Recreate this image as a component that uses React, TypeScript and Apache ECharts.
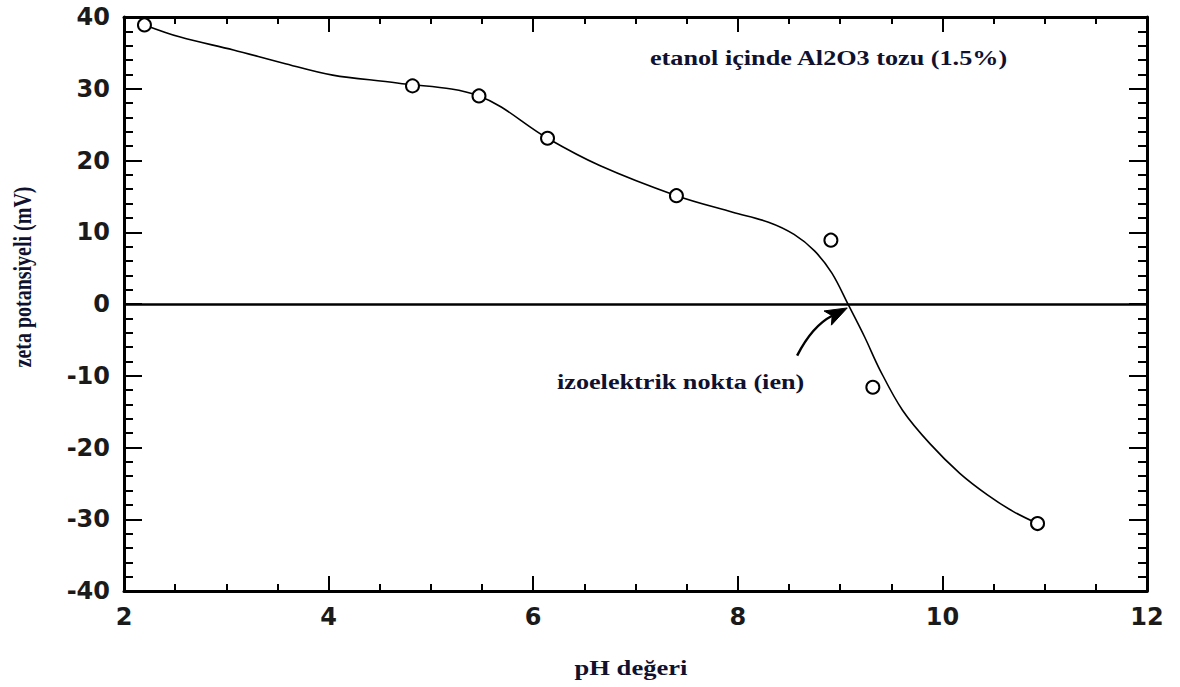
import React, { useEffect, useRef } from "react";
import * as echarts from "echarts";

// Smooth fitted curve
const curveX = [2.2, 2.55, 3.07, 3.55, 4.04, 4.67, 5.47, 6.14, 6.65, 7.4, 7.95, 8.3, 8.55, 8.75, 8.92, 9.08, 9.24, 9.39, 9.61, 9.88, 10.17, 10.44, 10.69, 10.93];
const curveY = [38.9, 37.2, 35.4, 33.6, 31.9, 30.8, 29.0, 23.1, 19.3, 15.1, 12.8, 11.4, 9.7, 7.4, 4.3, -0.1, -4.6, -9.2, -14.8, -19.5, -23.6, -26.6, -28.9, -30.6];

// Measured points (open circles)
const pointX = [2.2, 4.82, 5.47, 6.14, 7.4, 8.91, 9.32, 10.93];
const pointY = [38.9, 30.4, 29.0, 23.1, 15.1, 8.9, -11.6, -30.6];

// Axis ranges / ticks
const xMin = 2, xMax = 12, xStep = 2;
const yMin = -40, yMax = 40, yStep = 10;

// Texts
const xTitle = "pH değeri";
const yTitle = "zeta potansiyeli (mV)";
const noteTop = "etanol içinde Al2O3 tozu (1.5%)";
const noteIep = "izoelektrik nokta (ien)";

// Arrow (data coords): tail and tip
const arrowTail = [8.58, -7.2];
const arrowTip = [9.07, -0.55];

const serif = 'bold 20px "Liberation Serif", "Times New Roman", serif';
const textColor = "#10112e";

export default function App() {
  const ref = useRef<HTMLDivElement>(null);
  useEffect(() => {
    document.body.style.margin = "0";
    const chart = echarts.init(ref.current!, null, { renderer: "svg" });
    const tickLabel = {
      fontFamily: "DejaVu Sans",
      fontWeight: "bold" as const,
      fontSize: 24,
      color: "#1a1a1a",
    };
    const xAxisBase = {
      type: "value" as const,
      min: xMin,
      max: xMax,
      interval: xStep,
      axisLine: { show: true, onZero: false, lineStyle: { color: "#000", width: 3 } },
      axisTick: { show: true, inside: true, length: 15, lineStyle: { color: "#000", width: 2 } },
      minorTick: { show: true, splitNumber: 4, length: 7, lineStyle: { color: "#000", width: 2 } },
      splitLine: { show: false },
      minorSplitLine: { show: false },
    };
    const yAxisBase = {
      type: "value" as const,
      min: yMin,
      max: yMax,
      interval: yStep,
      axisLine: { show: true, onZero: false, lineStyle: { color: "#000", width: 3 } },
      axisTick: { show: true, inside: true, length: 18, lineStyle: { color: "#000", width: 2 } },
      minorTick: { show: true, splitNumber: 5, length: 9, lineStyle: { color: "#000", width: 2 } },
      splitLine: { show: false },
      minorSplitLine: { show: false },
    };
    chart.setOption({
      animation: false,
      backgroundColor: "#fff",
      grid: { left: 124, right: 33, top: 17, bottom: 96, containLabel: false },
      xAxis: [
        { ...xAxisBase, position: "bottom", axisLabel: { ...tickLabel, margin: 14 } },
        { ...xAxisBase, position: "top", axisLabel: { show: false } },
      ],
      yAxis: [
        { ...yAxisBase, position: "left", axisLabel: { ...tickLabel, margin: 14 } },
        { ...yAxisBase, position: "right", axisLabel: { show: false } },
      ],
      series: [
        {
          type: "line",
          name: "curve",
          data: curveX.map((x, i) => [x, curveY[i]]),
          smooth: 0.35,
          showSymbol: false,
          symbol: "none",
          lineStyle: { color: "#000", width: 1.6 },
          silent: true,
          z: 3,
          markLine: {
            silent: true,
            symbol: "none",
            label: { show: false },
            lineStyle: { color: "#000", width: 2.5, type: "solid" },
            data: [{ yAxis: 0 }],
          },
        },
        {
          type: "scatter",
          name: "data",
          data: pointX.map((x, i) => [x, pointY[i]]),
          symbol: "circle",
          symbolSize: 13,
          itemStyle: { color: "#fff", borderColor: "#000", borderWidth: 2, opacity: 1 },
          z: 5,
        },
      ],
    });

    const tail = chart.convertToPixel({ gridIndex: 0 }, arrowTail) as number[];
    const tip = chart.convertToPixel({ gridIndex: 0 }, arrowTip) as number[];
    const cp = [tail[0] + (tip[0] - tail[0]) * 0.3, tail[1] + (tip[1] - tail[1]) * 0.62];
    const dx = tip[0] - cp[0], dy = tip[1] - cp[1];
    const len = Math.hypot(dx, dy);
    const ux = dx / len, uy = dy / len;
    const px = -uy, py = ux;
    const headLen = 22, headHalf = 8;
    const base = [tip[0] - ux * headLen, tip[1] - uy * headLen];
    const notch = [tip[0] - ux * (headLen - 5), tip[1] - uy * (headLen - 5)];
    const w1 = [base[0] + px * headHalf, base[1] + py * headHalf];
    const w2 = [base[0] - px * headHalf, base[1] - py * headHalf];

    chart.setOption({
      graphic: [
        {
          type: "bezierCurve",
          shape: { x1: tail[0], y1: tail[1], x2: notch[0], y2: notch[1], cpx1: cp[0], cpy1: cp[1] },
          style: { stroke: "#000", lineWidth: 2.5, fill: "none" },
          silent: true,
          z: 10,
        },
        {
          type: "polygon",
          shape: { points: [tip, w1, notch, w2] },
          style: { fill: "#000", stroke: "#000", lineWidth: 1 },
          silent: true,
          z: 10,
        },
        {
          type: "text",
          x: 650,
          y: 58,
          scaleX: 1.31,
          style: { text: noteTop, font: serif, fill: textColor, textAlign: "left", textVerticalAlign: "middle" },
          z: 10,
        },
        {
          type: "text",
          x: 557,
          y: 382,
          scaleX: 1.31,
          style: { text: noteIep, font: serif, fill: textColor, textAlign: "left", textVerticalAlign: "middle" },
          z: 10,
        },
        {
          type: "text",
          x: 631,
          y: 668,
          scaleX: 1.33,
          style: { text: xTitle, font: serif, fill: textColor, textAlign: "center", textVerticalAlign: "middle" },
          z: 10,
        },
        {
          type: "text",
          x: 23,
          y: 277,
          rotation: Math.PI / 2,
          scaleY: 1.25,
          style: { text: yTitle, font: serif, fill: textColor, textAlign: "center", textVerticalAlign: "middle" },
          z: 10,
        },
      ],
    });
    return () => chart.dispose();
  }, []);
  return <div ref={ref} style={{ position: "absolute", left: 0, top: 0, width: 1180, height: 687 }} />;
}
